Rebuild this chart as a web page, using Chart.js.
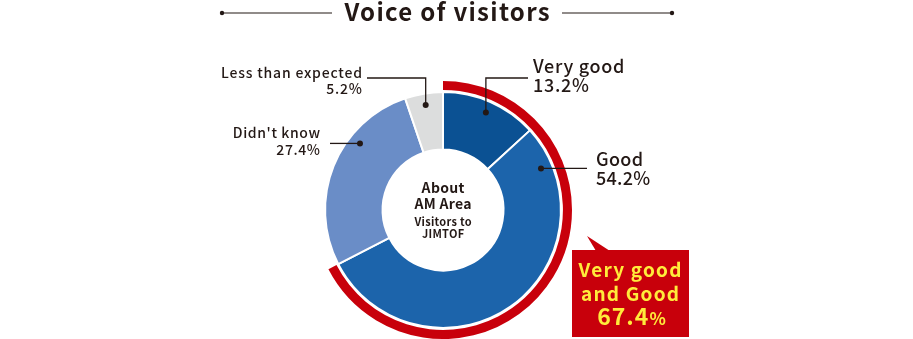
<!DOCTYPE html>
<html>
<head>
<meta charset="utf-8">
<script src="https://cdn.jsdelivr.net/npm/chart.js@4/dist/chart.umd.min.js"></script>
<style>
  html, body { margin: 0; padding: 0; background: #fff; }
  #wrap { width: 913px; height: 339px; }
</style>
</head>
<body>
<div id="wrap"><canvas id="pieChart" width="913" height="339"></canvas></div>
<script>
"use strict";

// data
const labels = ["Very good", "Good", "Didn't know", "Less than expected"];
const values = [13.2, 54.2, 27.4, 5.2];
const colors = ["#0b5193", "#1c64ab", "#6a8dc7", "#dcdddd"];
const centerLines = ["About", "AM Area", "Visitors to", "JIMTOF"];
const highlightLines = ["Very good", "and Good"];

const topShare = Math.round((values[0] + values[1]) * 10) / 10; // 67.4
const FONT = "'Noto Sans CJK JP', 'Noto Sans', sans-serif";

// where the leader lines go (frac = spot inside the slice)
const leaders = [
    { frac: 0.5, path: [[null, 78], [528, 78]], tx: 533, ty: [73, 92], align: "left", size: 18, sp: 0.7 },
    { frac: 0.1, path: [[587, null]], tx: 596, ty: [166, 185], align: "left", size: 18, sp: 0.3 },
    { frac: 0.67, path: [[330, null]], tx: 320, ty: [138, 155], align: "right", size: 14, sp: 0.6 },
    { frac: 0.5, path: [[null, 78], [367, 78]], tx: 362, ty: [78, 94], align: "right", size: 14, sp: 0.8 }
];

function spaced(ctx, text, x, y, sp) {
    ctx.letterSpacing = sp + "px";
    // trailing spacing shifts right-aligned text, undo it
    const dx = ctx.textAlign === "right" ? sp : (ctx.textAlign === "center" ? sp / 2 : 0);
    ctx.fillText(text, x + dx, y);
    ctx.letterSpacing = "0px";
}

const decorPlugin = {
    id: "decor",
    afterDraw(chart) {
        const ctx = chart.ctx;
        const meta = chart.getDatasetMeta(2);
        ctx.save();

        // title
        ctx.fillStyle = "#231815";
        ctx.strokeStyle = "#231815";
        ctx.font = "bold 24px " + FONT;
        ctx.textAlign = "center";
        ctx.textBaseline = "alphabetic";
        spaced(ctx, "Voice of visitors", 447, 21, 1.3);
        ctx.lineWidth = 1.2;
        ctx.beginPath();
        ctx.moveTo(222, 13); ctx.lineTo(332, 13);
        ctx.moveTo(562, 13); ctx.lineTo(672, 13);
        ctx.stroke();
        [222, 672].forEach(x => {
            ctx.beginPath(); ctx.arc(x, 13, 2.2, 0, Math.PI * 2); ctx.fill();
        });

        // leader lines + labels
        meta.data.forEach((arc, i) => {
            const p = arc.getProps(["x", "y", "startAngle", "endAngle", "innerRadius", "outerRadius"], true);
            const L = leaders[i];
            const a = p.startAngle + L.frac * (p.endAngle - p.startAngle);
            const r = p.innerRadius + 0.8 * (p.outerRadius - p.innerRadius);
            let x = p.x + r * Math.cos(a);
            let y = p.y + r * Math.sin(a);
            ctx.fillStyle = "#231815";
            ctx.beginPath(); ctx.arc(x, y, 3, 0, Math.PI * 2); ctx.fill();
            ctx.lineWidth = 1.3;
            ctx.beginPath();
            ctx.moveTo(x, y);
            L.path.forEach(pt => {
                x = pt[0] === null ? x : pt[0];
                y = pt[1] === null ? y : pt[1];
                ctx.lineTo(x, y);
            });
            ctx.stroke();
            ctx.font = "500 " + L.size + "px " + FONT;
            ctx.textAlign = L.align;
            spaced(ctx, labels[i], L.tx, L.ty[0], L.sp);
            spaced(ctx, values[i].toFixed(1) + "%", L.tx, L.ty[1], L.sp);
        });

        // center text
        const cx = meta.data[0].x;
        ctx.textAlign = "center";
        ctx.fillStyle = "#231815";
        ctx.font = "bold 14px " + FONT;
        spaced(ctx, centerLines[0], cx, 193, 0.3);
        spaced(ctx, centerLines[1], cx, 209, 0.3);
        ctx.font = "bold 11px " + FONT;
        spaced(ctx, centerLines[2], cx, 226, 0.3);
        spaced(ctx, centerLines[3], cx, 238, 0.3);

        // callout
        ctx.fillStyle = "#c8000b";
        ctx.beginPath();
        ctx.moveTo(587, 236); ctx.lineTo(610, 251); ctx.lineTo(596, 251);
        ctx.closePath(); ctx.fill();
        ctx.fillRect(572, 250, 117, 87);
        ctx.fillStyle = "#ffeb3b";
        ctx.font = "bold 19px " + FONT;
        spaced(ctx, highlightLines[0], 630, 277, 1.2);
        spaced(ctx, highlightLines[1], 630, 301, 1.2);
        const num = topShare.toFixed(1);
        ctx.letterSpacing = "1px";
        ctx.font = "bold 23px " + FONT;
        const w1 = ctx.measureText(num).width;
        ctx.font = "bold 17px " + FONT;
        const w2 = ctx.measureText("%").width;
        const sx = 632 - (w1 + w2) / 2;
        ctx.textAlign = "left";
        ctx.font = "bold 23px " + FONT;
        ctx.fillText(num, sx, 325);
        ctx.font = "bold 17px " + FONT;
        ctx.fillText("%", sx + w1, 325);
        ctx.letterSpacing = "0px";

        ctx.restore();
    }
};

const ctx = document.getElementById("pieChart").getContext("2d");
const myChart = new Chart(ctx, {
    type: "doughnut",
    data: {
        labels: labels,
        datasets: [
            {
                data: [topShare, 100 - topShare],
                backgroundColor: ["#c8000b", "rgba(0,0,0,0)"],
                borderWidth: 0,
                weight: 9
            },
            {
                data: [100],
                backgroundColor: ["rgba(0,0,0,0)"],
                borderWidth: 0,
                weight: 2
            },
            {
                data: values,
                backgroundColor: colors,
                borderColor: "#ffffff",
                borderWidth: 2,
                weight: 57
            }
        ]
    },
    options: {
        responsive: false,
        animation: false,
        cutout: "46.875%",
        layout: { padding: { left: 314, right: 341, top: 81, bottom: 0 } },
        plugins: {
            legend: { display: false },
            tooltip: { enabled: false },
            title: { display: false }
        },
        events: []
    },
    plugins: [decorPlugin]
});
</script>
</body>
</html>
